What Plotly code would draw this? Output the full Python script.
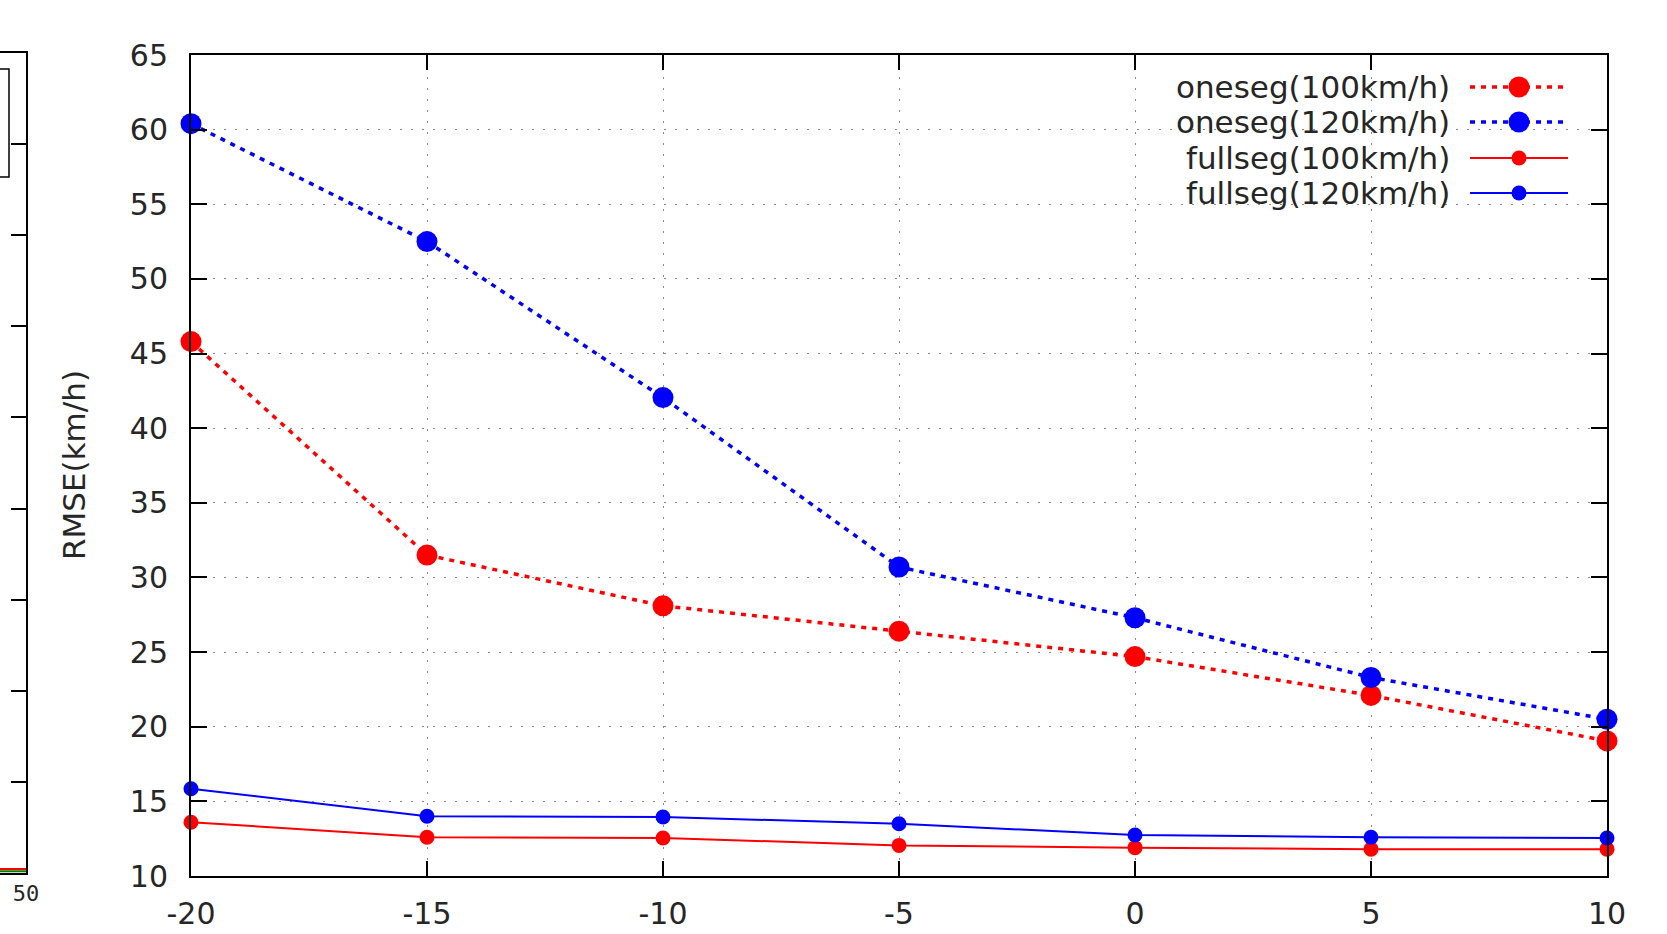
import plotly.graph_objects as go

W, H = 1667, 934

snr = [-20, -15, -10, -5, 0, 5, 10]
oneseg_100 = [45.8, 31.5, 28.1, 26.4, 24.7, 22.1, 19.05]
oneseg_120 = [60.4, 52.5, 42.05, 30.7, 27.3, 23.3, 20.5]
fullseg_100 = [13.6, 12.6, 12.55, 12.05, 11.9, 11.8, 11.8]
fullseg_120 = [15.85, 14.0, 13.95, 13.5, 12.75, 12.6, 12.55]

series_names = ["oneseg(100km/h)", "oneseg(120km/h)", "fullseg(100km/h)", "fullseg(120km/h)"]
x_ticks = [-20, -15, -10, -5, 0, 5, 10]
y_ticks = [10, 15, 20, 25, 30, 35, 40, 45, 50, 55, 60, 65]
y_title = "RMSE(km/h)"

# neighbouring (cut-off) chart on the far left
left_x = [0, 50]
left_red = [0.045, 0.045]
left_green = [0.018, 0.018]
left_tick_label = [50]

RED = "#ff0000"
BLUE = "#0000ff"
TXT = "#262626"
FONT = "DejaVu Sans"

def px_x(p):
    return p / W

def px_y(p):
    return (H - p) / H

fig = go.Figure()

styles = [
    (oneseg_100, RED, "5px,6px", 3.5, 21),
    (oneseg_120, BLUE, "5px,6px", 3.5, 21),
    (fullseg_100, RED, "solid", 2, 15),
    (fullseg_120, BLUE, "solid", 2, 15),
]
for name, (vals, col, dash, lw, ms) in zip(series_names, styles):
    fig.add_trace(go.Scatter(
        x=snr, y=vals, name=name, mode="lines+markers",
        line=dict(color=col, width=lw, dash=dash),
        marker=dict(color=col, size=ms, line=dict(width=0)),
        cliponaxis=False, showlegend=False,
        xaxis="x", yaxis="y",
    ))

fig.add_trace(go.Scatter(x=left_x, y=left_red, mode="lines",
                         line=dict(color=RED, width=2), showlegend=False,
                         xaxis="x2", yaxis="y2"))
fig.add_trace(go.Scatter(x=left_x, y=left_green, mode="lines",
                         line=dict(color="#008000", width=2), showlegend=False,
                         xaxis="x2", yaxis="y2"))

grid = dict(showgrid=True, gridcolor="#8c8c8c", gridwidth=1.2, griddash="2px,9px")

fig.update_layout(
    template="none",
    width=W, height=H,
    margin=dict(l=0, r=0, t=0, b=0, autoexpand=False),
    paper_bgcolor="white", plot_bgcolor="white",
    showlegend=False,
    font=dict(family=FONT, color=TXT),
    xaxis=dict(
        domain=[px_x(191), px_x(1607)], range=[-20, 10], automargin=False,
        tickvals=x_ticks, ticktext=[str(v) for v in x_ticks],
        ticks="inside", ticklen=15, tickwidth=1.5, tickcolor="black",
        showline=True, linecolor="black", linewidth=2, mirror="ticks",
        zeroline=False, tickfont=dict(size=30, family=FONT, color=TXT),
        ticklabelstandoff=10, anchor="y", **grid,
    ),
    yaxis=dict(
        domain=[px_y(876), px_y(55)], range=[10, 65], automargin=False,
        tickvals=y_ticks, ticktext=[str(v) for v in y_ticks],
        ticks="inside", ticklen=16, tickwidth=1.5, tickcolor="black",
        showline=True, linecolor="black", linewidth=2, mirror="ticks",
        zeroline=False, tickfont=dict(size=30, family=FONT, color=TXT),
        ticklabelstandoff=15, anchor="x", **grid,
    ),
    xaxis2=dict(
        domain=[0, px_x(26)], range=[40, 50], anchor="y2", automargin=False,
        tickvals=left_tick_label, ticktext=[str(v) for v in left_tick_label],
        ticks="", showgrid=False, zeroline=False,
        showline=True, linecolor="black", linewidth=2, mirror=True,
        tickfont=dict(size=22, family="DejaVu Sans Mono", color=TXT),
        ticklabelstandoff=0,
    ),
    yaxis2=dict(
        domain=[px_y(873), px_y(53)], range=[0, 9], anchor="x2", automargin=False,
        tickvals=list(range(10)), showticklabels=False,
        ticks="inside", side="right", ticklen=15, tickwidth=1.5, tickcolor="black",
        showgrid=False, zeroline=False,
        showline=True, linecolor="black", linewidth=2, mirror=True,
    ),
)

shapes = []
# white legend background (hides grid)
shapes.append(dict(type="rect", xref="paper", yref="paper",
                   x0=px_x(1124), x1=px_x(1587), y0=px_y(210), y1=px_y(56),
                   fillcolor="white", line=dict(width=0), layer="between"))
# inner box of the left neighbouring chart
shapes.append(dict(type="rect", xref="paper", yref="paper",
                   x0=-0.01, x1=px_x(9), y0=px_y(177), y1=px_y(69),
                   fillcolor="rgba(0,0,0,0)", line=dict(color="black", width=1.5)))

annotations = []
rows = [87, 122, 158, 193]
for name, (vals, col, dash, lw, ms), ry in zip(series_names, styles, rows):
    annotations.append(dict(text=name, xref="paper", yref="paper",
                            x=px_x(1452), y=px_y(ry), xanchor="right", yanchor="middle",
                            showarrow=False, font=dict(size=31, family=FONT, color=TXT)))
    shapes.append(dict(type="line", xref="paper", yref="paper",
                       x0=px_x(1470), x1=px_x(1568), y0=px_y(ry), y1=px_y(ry),
                       line=dict(color=col, width=lw, dash=dash), layer="above"))
    r = ms / 2
    shapes.append(dict(type="circle", xref="paper", yref="paper",
                       xsizemode="pixel", ysizemode="pixel",
                       xanchor=px_x(1519), yanchor=px_y(ry),
                       x0=-r, x1=r, y0=-r, y1=r,
                       fillcolor=col, line=dict(width=0), layer="above"))

annotations.append(dict(text=y_title, xref="paper", yref="paper",
                        x=px_x(74), y=px_y(465), xanchor="center", yanchor="middle",
                        textangle=-90, showarrow=False,
                        font=dict(size=31, family=FONT, color=TXT)))

fig.update_layout(shapes=shapes, annotations=annotations)

fig.write_html("out.html",
               config={"displayModeBar": False},
               post_script="document.body.style.margin='0';document.body.style.overflow='hidden';")
